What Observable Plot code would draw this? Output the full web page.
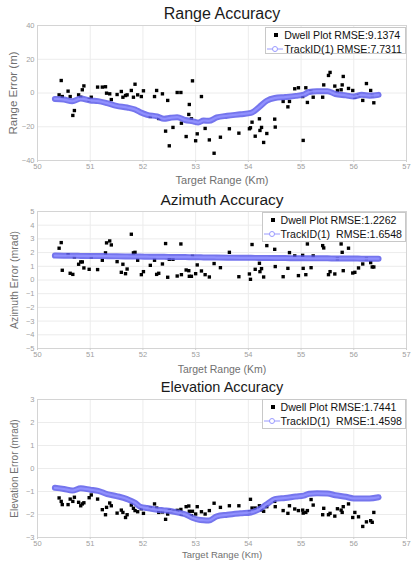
<!DOCTYPE html>
<html>
<head>
<meta charset="utf-8">
<script src="https://cdn.jsdelivr.net/npm/d3@7"></script>
<script src="https://cdn.jsdelivr.net/npm/@observablehq/plot@0.6"></script>
<style>
  html, body { margin: 0; padding: 0; background: #fff; }
  #root { position: relative; width: 411px; height: 561px; overflow: hidden; font-family: "Liberation Sans", Arial, sans-serif; }
  .panel { position: absolute; left: 0; }
  .panel svg text { font-family: "Liberation Sans", Arial, sans-serif; }
  .legend { position: absolute; right: 5px; background: #fff; border: 1px solid #c8c8c8; font-size: 10.6px; color: #111; padding: 0 3px 0 1px; white-space: pre; box-sizing: border-box; }
  .legend .row { display: flex; align-items: center; height: 14px; }
  .legend svg { flex: none; margin-right: 1px; }
</style>
</head>
<body>
<div id="root"></div>
<script>
// ---------- data ----------
const titles = ["Range Accuracy", "Azimuth Accuracy", "Elevation Accuracy"];
const yLabels = ["Range Error (m)", "Azimuth Error (mrad)", "Elevation Error (mrad)"];
const xLabel = "Target Range (Km)";
const dwellLegend = ["Dwell Plot RMSE:9.1374", "Dwell Plot RMSE:1.2262", "Dwell Plot RMSE:1.7441"];
const trackLegend = ["TrackID(1) RMSE:7.7311", "TrackID(1)  RMSE:1.6548", "TrackID(1)  RMSE:1.4598"];

const xTicks = [50, 51, 52, 53, 54, 55, 56, 57];
const rangeTicks = [-40, -20, 0, 20, 40];
const azimuthTicks = [-5, -4, -3, -2, -1, 0, 1, 2, 3, 4, 5];
const elevationTicks = [-3, -2, -1, 0, 1, 2, 3];

const dwellKm = [50.41, 50.45, 50.47, 50.58, 50.62, 50.67, 50.70, 50.78, 50.82, 50.85, 50.88, 50.98, 51.02, 51.14, 51.23, 51.29, 51.31, 51.37, 51.40, 51.51, 51.59, 51.62, 51.67, 51.70, 51.78, 51.82, 51.85, 51.90, 51.97, 52.01, 52.14, 52.22, 52.26, 52.30, 52.37, 52.43, 52.47, 52.50, 52.57, 52.65, 52.72, 52.73, 52.82, 52.87, 52.88, 52.92, 52.94, 53.00, 53.03, 53.11, 53.18, 53.26, 53.35, 53.47, 53.64, 53.82, 54.02, 54.04, 54.07, 54.13, 54.21, 54.22, 54.25, 54.29, 54.35, 54.50, 54.51, 54.66, 54.75, 54.78, 54.88, 54.95, 55.03, 55.04, 55.09, 55.12, 55.19, 55.23, 55.41, 55.43, 55.52, 55.55, 55.64, 55.69, 55.76, 55.78, 55.80, 55.90, 55.98, 56.02, 56.09, 56.17, 56.24, 56.32, 56.35, 56.38];

const rangeDwell = [-1.1, 7.4, -2.1, 1.1, -2.1, -13.3, -10.4, -1.1, -2.5, 1.9, 4.2, -4.1, -2.5, 3.5, 3.5, 3.7, -0.1, -0.5, -3.9, -0.9, 0.9, -2.5, -1.5, -1.1, 1.5, -2.5, 5.2, -1.1, -2.1, 1.3, -13.9, -2.1, 1.5, -15.1, -0.5, -22.6, -4.4, -31.3, -20.4, 0.3, 0.3, -17.9, -25.8, -12.7, -6.8, -15.3, 7.2, -28.3, -24.2, -2.1, -21.0, -27.8, -35.7, -26.2, -21.2, -23.8, -21.2, -20.6, -17.3, -25.6, -15.3, -22.2, -20.4, -29.3, -24.0, -15.5, -20.2, -5.0, -8.2, -5.0, 2.5, 3.1, -2.1, -28.1, 3.1, -5.6, 0.9, -2.5, -2.5, 4.8, 10.4, 12.2, 4.1, 1.5, 1.9, 4.8, 9.8, 2.7, 1.5, -2.5, -1.5, -4.4, 5.6, 1.5, -1.5, -5.8];

const azimuthDwell = [2.32, 2.73, 0.71, 1.85, 0.49, 0.41, 1.68, 1.15, 1.32, 1.32, 0.88, 0.78, 1.68, 0.76, 1.44, 1.98, 2.71, 2.85, 2.56, 1.34, 0.56, 1.15, 0.46, 0.80, 3.34, 1.98, 2.02, 1.44, 0.39, 0.61, 1.07, 1.44, 0.41, 0.49, 1.17, 2.66, 0.20, 1.51, 1.51, 0.29, 2.63, 0.39, 0.73, 0.68, 0.27, 0.27, 1.73, 0.46, 1.10, 0.66, 0.39, 0.22, 1.20, 0.90, 2.02, 0.24, 0.44, 0.05, 2.59, 0.78, 1.22, 0.61, 0.83, 0.22, 2.51, 2.24, 0.98, 0.24, 0.85, 2.00, 1.76, 0.32, 1.80, 0.85, 0.39, 2.63, 0.90, 1.76, 2.51, 2.34, 0.39, 0.61, 0.44, 1.56, 2.63, 2.02, 0.68, 2.32, 0.51, 0.56, 0.88, 1.17, 1.56, 1.27, 0.95, 0.95];

const elevationDwell = [-1.28, -1.43, -1.57, -1.57, -1.33, -1.43, -1.25, -1.47, -1.62, -1.54, -1.49, -1.27, -1.15, -1.33, -1.79, -2.01, -1.69, -1.50, -1.62, -1.94, -1.81, -1.91, -2.13, -2.01, -1.59, -1.73, -1.83, -1.88, -1.75, -1.95, -1.72, -1.54, -1.72, -1.91, -1.89, -2.21, -1.98, -1.83, -1.86, -1.82, -1.78, -1.98, -1.66, -1.63, -1.86, -2.05, -1.86, -1.98, -1.66, -1.88, -1.98, -1.83, -1.51, -1.69, -1.62, -1.62, -1.89, -1.34, -1.72, -1.72, -1.62, -1.72, -1.80, -1.86, -1.66, -1.43, -1.66, -1.83, -1.95, -1.62, -1.76, -1.83, -1.81, -1.94, -1.91, -1.83, -1.35, -1.59, -2.01, -1.73, -2.01, -1.95, -2.07, -1.75, -1.81, -1.91, -1.66, -1.54, -2.13, -1.91, -2.10, -2.52, -2.32, -2.27, -2.34, -1.91];

const trackKm = [50.33, 50.5, 50.66, 50.82, 51.0, 51.15, 51.32, 51.5, 51.7, 51.85, 51.95, 52.08, 52.27, 52.4, 52.52, 52.65, 52.8, 52.95, 53.05, 53.15, 53.25, 53.4, 53.6, 53.85, 54.05, 54.2, 54.35, 54.5, 54.7, 54.9, 55.05, 55.15, 55.3, 55.5, 55.65, 55.85, 56.0, 56.15, 56.3, 56.47];

const rangeTrack = [-3.5, -3.9, -4.9, -3.3, -4.4, -4.8, -6.0, -7.6, -8.6, -9.8, -11.4, -12.9, -13.9, -15.3, -14.7, -14.3, -16.0, -16.8, -17.5, -16.3, -16.5, -14.5, -13.5, -12.6, -11.8, -8.5, -4.6, -3.0, -2.4, -1.7, -1.0, 0.6, 1.1, 1.1, -0.6, -1.4, -2.1, -1.1, -1.6, -1.1];

const azimuthTrack = [1.78, 1.77, 1.77, 1.76, 1.75, 1.75, 1.74, 1.73, 1.72, 1.71, 1.71, 1.70, 1.69, 1.69, 1.68, 1.67, 1.67, 1.66, 1.66, 1.65, 1.65, 1.64, 1.63, 1.62, 1.62, 1.61, 1.61, 1.60, 1.60, 1.59, 1.59, 1.58, 1.58, 1.58, 1.57, 1.57, 1.57, 1.56, 1.56, 1.56];

const elevationTrack = [-0.84, -0.89, -0.96, -0.86, -0.92, -0.97, -1.11, -1.20, -1.33, -1.49, -1.66, -1.72, -1.79, -1.82, -1.85, -1.91, -1.99, -2.15, -2.22, -2.25, -2.26, -2.08, -2.01, -1.95, -1.91, -1.78, -1.55, -1.33, -1.28, -1.22, -1.18, -1.10, -1.08, -1.09, -1.16, -1.23, -1.30, -1.30, -1.30, -1.25];

// ---------- layout (panel geometry) ----------
const panels = [
  { top: 0,   height: 190, mt: 25, mb: 30, domain: [-40, 40], ticks: rangeTicks, dwell: rangeDwell, track: trackKm.map((k, i) => ({k, v: rangeTrack[i]})),
    titleSize: 16, titleDy: -12, xlabSize: 11, xlabDy: 20, ylabSize: 11.5, ylabDx: -24, legendTop: 27, legendH: 27 },
  { top: 185, height: 193, mt: 26, mb: 30, domain: [-5, 5], ticks: azimuthTicks, dwell: azimuthDwell, track: trackKm.map((k, i) => ({k, v: azimuthTrack[i]})),
    titleSize: 15.5, titleDy: -11, xlabSize: 10.5, xlabDy: 21, ylabSize: 10.5, ylabDx: -23, legendTop: 212, legendH: 30 },
  { top: 370, height: 191, mt: 29, mb: 24, domain: [-3, 3], ticks: elevationTicks, dwell: elevationDwell, track: trackKm.map((k, i) => ({k, v: elevationTrack[i]})),
    titleSize: 14.5, titleDy: -12, xlabSize: 9.5, xlabDy: 17, ylabSize: 10, ylabDx: -23, legendTop: 399, legendH: 30 }
];

const root = document.getElementById("root");

panels.forEach((p, idx) => {
  const dwellData = dwellKm.map((k, i) => ({k, v: p.dwell[i]}));
  const chart = Plot.plot({
    width: 411,
    height: p.height,
    marginLeft: 37,
    marginRight: 5,
    marginTop: p.mt,
    marginBottom: p.mb,
    style: { background: "transparent", fontFamily: "Liberation Sans, Arial, sans-serif", overflow: "visible" },
    x: { domain: [50, 57] },
    y: { domain: p.domain },
    marks: [
      Plot.gridX(xTicks, { stroke: "#ececec", strokeOpacity: 1 }),
      Plot.gridY(p.ticks, { stroke: "#ececec", strokeOpacity: 1 }),
      Plot.frame({ stroke: "#d4d4d4" }),
      Plot.axisX(xTicks, { tickSize: 2, stroke: "#cfcfcf", tickPadding: 1, fontSize: 7.5, fill: "#a0a0a0", label: null }),
      Plot.axisY(p.ticks, { tickSize: 0, tickPadding: 3, fontSize: 7.5, fill: "#a0a0a0", label: null }),
      Plot.text([titles[idx]], { frameAnchor: "top", lineAnchor: "middle", dy: p.titleDy, fontSize: p.titleSize, fill: "#1a1a1a", text: d => d }),
      Plot.text([xLabel], { frameAnchor: "bottom", lineAnchor: "middle", dy: p.xlabDy, fontSize: p.xlabSize, fill: "#707070", text: d => d }),
      Plot.text([yLabels[idx]], { frameAnchor: "left", lineAnchor: "middle", textAnchor: "middle", dx: p.ylabDx, rotate: -90, fontSize: p.ylabSize, fill: "#707070", text: d => d }),
      Plot.dot(dwellData, { x: "k", y: "v", symbol: "square", r: 1.9, fill: "#000", stroke: "none" }),
      Plot.line(p.track, { x: "k", y: "v", stroke: "#5d5dea", strokeWidth: 6, strokeOpacity: 0.85, curve: "monotone-x" }),
      Plot.line(p.track, { x: "k", y: "v", stroke: "#9494ff", strokeWidth: 2.2, strokeOpacity: 0.9, curve: "monotone-x" })
    ]
  });
  const wrap = document.createElement("div");
  wrap.className = "panel";
  wrap.style.top = p.top + "px";
  wrap.appendChild(chart);
  root.appendChild(wrap);

  // legend
  const lg = document.createElement("div");
  lg.className = "legend";
  lg.style.top = p.legendTop + "px";
  lg.style.height = p.legendH + "px";
  lg.style.paddingTop = ((p.legendH - 2 - 28) / 2) + "px";
  lg.innerHTML =
    `<div class="row"><svg width="16" height="10"><rect x="7" y="3" width="4" height="4" fill="#000"/></svg><span>${dwellLegend[idx]}</span></div>` +
    `<div class="row"><svg width="16" height="10"><line x1="0" y1="5" x2="16" y2="5" stroke="#9a9aff" stroke-width="1"/><circle cx="8" cy="5" r="2.5" fill="#fff" stroke="#9a9aff" stroke-width="1"/></svg><span>${trackLegend[idx]}</span></div>`;
  root.appendChild(lg);
});
</script>
</body>
</html>
